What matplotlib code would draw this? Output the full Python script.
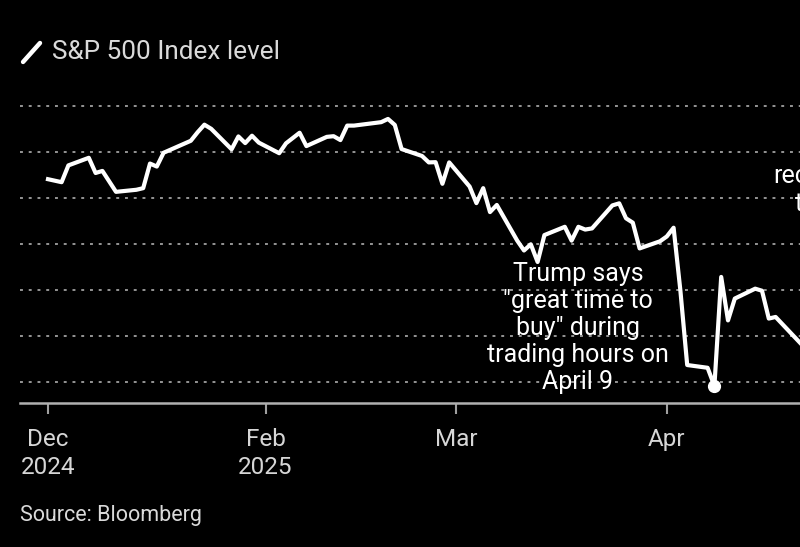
import matplotlib

matplotlib.use("Agg")
import matplotlib.pyplot as plt
import pandas as pd
from matplotlib.lines import Line2D

plt.rcParams["font.family"] = ["Roboto", "DejaVu Sans"]

dates = [
    "2024-12-31", "2025-01-02", "2025-01-03", "2025-01-06", "2025-01-07", "2025-01-08",
    "2025-01-10", "2025-01-13", "2025-01-14", "2025-01-15", "2025-01-16", "2025-01-17",
    "2025-01-21", "2025-01-22", "2025-01-23", "2025-01-24", "2025-01-27", "2025-01-28",
    "2025-01-29", "2025-01-30", "2025-01-31", "2025-02-03", "2025-02-04", "2025-02-05",
    "2025-02-06", "2025-02-07", "2025-02-10", "2025-02-11", "2025-02-12", "2025-02-13",
    "2025-02-14", "2025-02-18", "2025-02-19", "2025-02-20", "2025-02-21", "2025-02-24",
    "2025-02-25", "2025-02-26", "2025-02-27", "2025-02-28", "2025-03-03", "2025-03-04",
    "2025-03-05", "2025-03-06", "2025-03-07", "2025-03-10", "2025-03-11", "2025-03-12",
    "2025-03-13", "2025-03-14", "2025-03-17", "2025-03-18", "2025-03-19", "2025-03-20",
    "2025-03-21", "2025-03-24", "2025-03-25", "2025-03-26", "2025-03-27", "2025-03-28",
    "2025-03-31", "2025-04-01", "2025-04-02", "2025-04-03", "2025-04-04", "2025-04-07",
    "2025-04-08", "2025-04-09", "2025-04-10", "2025-04-11", "2025-04-14", "2025-04-15",
    "2025-04-16", "2025-04-17", "2025-04-21", "2025-04-22",
]
index_level = [
    5882, 5869, 5942, 5975, 5909, 5918,
    5827, 5836, 5843, 5950, 5937, 5997,
    6049, 6086, 6119, 6101, 6012, 6068,
    6039, 6071, 6041, 5995, 6038, 6061,
    6084, 6026, 6066, 6069, 6052, 6115,
    6115, 6130, 6144, 6118, 6013, 5983,
    5955, 5956, 5862, 5955, 5850, 5778,
    5843, 5739, 5770, 5615, 5572, 5599,
    5522, 5639, 5675, 5615, 5675, 5663,
    5668, 5768, 5777, 5712, 5693, 5581,
    5612, 5633, 5671, 5397, 5074, 5062,
    4983, 5457, 5268, 5363, 5406, 5397,
    5276, 5283, 5158, 5288,
]
marker_date = "2025-04-08"
marker_level = 4983

tick_dates = ["2024-12-31", "2025-02-01", "2025-03-01", "2025-04-01"]
tick_labels = ["Dec\n2024", "Feb\n2025", "Mar", "Apr"]
grid_levels = [5000, 5200, 5400, 5600, 5800, 6000, 6200]

# annotation texts; the right one runs off the edge, as in the source image
note_text = 'Trump says\n"great time to\nbuy" during\ntrading hours on\nApril 9'
note_date = "2025-03-18 22:00"
note_level = 5235
side_text = "reciprocal\ntariffs"
side_date = "2025-04-24 18:00"
side_level = 5835

x = pd.to_datetime(dates)
start = pd.Timestamp("2024-12-31")

fig = plt.figure(figsize=(8, 5.47), dpi=100, facecolor="black")
ax = fig.add_axes([0.025, 0.2633, 0.975, 0.563])
ax.set_facecolor("black")

for level in grid_levels:
    ax.axhline(level, color="#959595", linewidth=1.4, linestyle=(0, (1.5, 3)), zorder=1)

ax.plot(x, index_level, color="white", linewidth=3.0, solid_joinstyle="round", zorder=3)
ax.plot(pd.Timestamp(marker_date), marker_level, "o", color="white", markersize=8.5, zorder=4)

ax.set_xlim(start - pd.Timedelta(days=28 / 6.8), start + pd.Timedelta(days=752 / 6.8))
ax.set_ylim(4909, 6248)

ax.set_xticks(pd.to_datetime(tick_dates))
ax.set_xticklabels(tick_labels, color="#d6d6d6", fontsize=17.5, linespacing=1.3)
ax.tick_params(axis="x", direction="out", length=8, width=1.5, color="#a0a0a0", pad=10)
ax.set_yticks([])
for side in ("top", "left", "right"):
    ax.spines[side].set_visible(False)
ax.spines["bottom"].set_color("#b0b0b0")
ax.spines["bottom"].set_linewidth(1.8)

ax.text(pd.Timestamp(note_date), note_level, note_text, color="white", fontsize=18,
        ha="center", va="center", linespacing=1.17, zorder=5)
ax.text(pd.Timestamp(side_date), side_level, side_text, color="white", fontsize=18,
        ha="center", va="center", linespacing=1.17, zorder=5)

fig.add_artist(Line2D([0.0288, 0.05], [0.8867, 0.9214], color="white", linewidth=3.2,
                      solid_capstyle="round", transform=fig.transFigure))
fig.text(0.065, 0.905, "S&P 500 Index level", color="#dadada", fontsize=18.8, va="center")
fig.text(0.025, 0.057, "Source: Bloomberg", color="#dadada", fontsize=15.5, va="center")

fig.savefig("out.png", facecolor="black")
